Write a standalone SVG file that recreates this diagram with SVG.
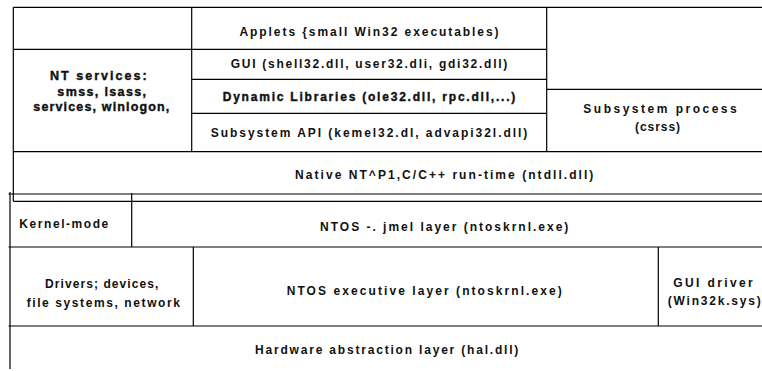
<svg xmlns="http://www.w3.org/2000/svg" width="762" height="371" viewBox="0 0 762 371">
<style>
.bg{fill:#ffffff}
.ln{stroke:#000;stroke-width:1.2;fill:none}
text{font-family:"Liberation Sans",Arial,sans-serif;font-weight:bold;font-size:12px;fill:#111;text-anchor:middle}
.hv{stroke:#111;stroke-width:0.4}
.big{font-size:12.5px}
</style>
<rect class="bg" x="0" y="0" width="762" height="371"/>
<g id="grid" class="ln">
<path d="M13.3 7.3H762 M13.3 7.3V201.3 M191.7 7.3V151.7 M546.7 7.3V151.7"/>
<path d="M13.3 49.3H546.7 M191.7 79.3H546.7 M191.7 113.3H546.7 M546.7 89.3H762"/>
<path d="M13.3 151.7H762 M8.5 194H762 M13.3 201.3H762"/>
<path d="M10 192V369 M131.7 193V247 M8.5 247H762 M193.3 247V326 M658.3 247V326 M8.5 326H762"/>
</g>
<g id="nt-services"><text class="hv big" x="98.3" y="80" textLength="96.7" lengthAdjust="spacing">NT services:</text><text class="hv big" x="101.7" y="95.5" textLength="88.7" lengthAdjust="spacing">smss, lsass,</text><text class="hv big" x="101.3" y="111" textLength="136" lengthAdjust="spacing">services, winlogon,</text></g>
<g id="applets"><text x="369" y="35.5" textLength="259" lengthAdjust="spacing">Applets {small Win32 executables)</text></g>
<g id="gui"><text x="369" y="68" textLength="276.6" lengthAdjust="spacing">GUI (shell32.dll, user32.dli, gdi32.dll)</text></g>
<g id="dynamic-libraries"><text class="hv" x="369" y="101" textLength="292.6" lengthAdjust="spacing">Dynamic Libraries (ole32.dll, rpc.dll,...)</text></g>
<g id="subsystem-api"><text x="369" y="137" textLength="316.6" lengthAdjust="spacing">Subsystem API (kemel32.dl, advapi32l.dll)</text></g>
<g id="subsystem-process"><text x="660" y="112.5" textLength="153.4" lengthAdjust="spacing">Subsystem process</text><text x="657.5" y="131" textLength="45" lengthAdjust="spacing">(csrss)</text></g>
<g id="native"><text x="444.2" y="178.5" textLength="298.3" lengthAdjust="spacing">Native NT^P1,C/C++ run-time (ntdll.dll)</text></g>
<g id="kernel-mode"><text x="63.8" y="228" textLength="89" lengthAdjust="spacing">Kernel-mode</text></g>
<g id="ntos-kernel"><text x="444.2" y="231" textLength="248.3" lengthAdjust="spacing">NTOS -. jmel layer (ntoskrnl.exe)</text></g>
<g id="drivers"><text x="101.7" y="287.5" textLength="113.3" lengthAdjust="spacing">Drivers; devices,</text><text x="103.3" y="306.5" textLength="153.3" lengthAdjust="spacing">file systems, network</text></g>
<g id="ntos-executive"><text x="424.2" y="295" textLength="275" lengthAdjust="spacing">NTOS executive layer (ntoskrnl.exe)</text></g>
<g id="gui-driver"><text x="713" y="286.5" textLength="79.4" lengthAdjust="spacing">GUI driver</text><text x="714.2" y="304.5" textLength="93" lengthAdjust="spacing">(Win32k.sys)</text></g>
<g id="hal"><text x="386.7" y="354" textLength="263.3" lengthAdjust="spacing">Hardware abstraction layer (hal.dll)</text></g>
</svg>
